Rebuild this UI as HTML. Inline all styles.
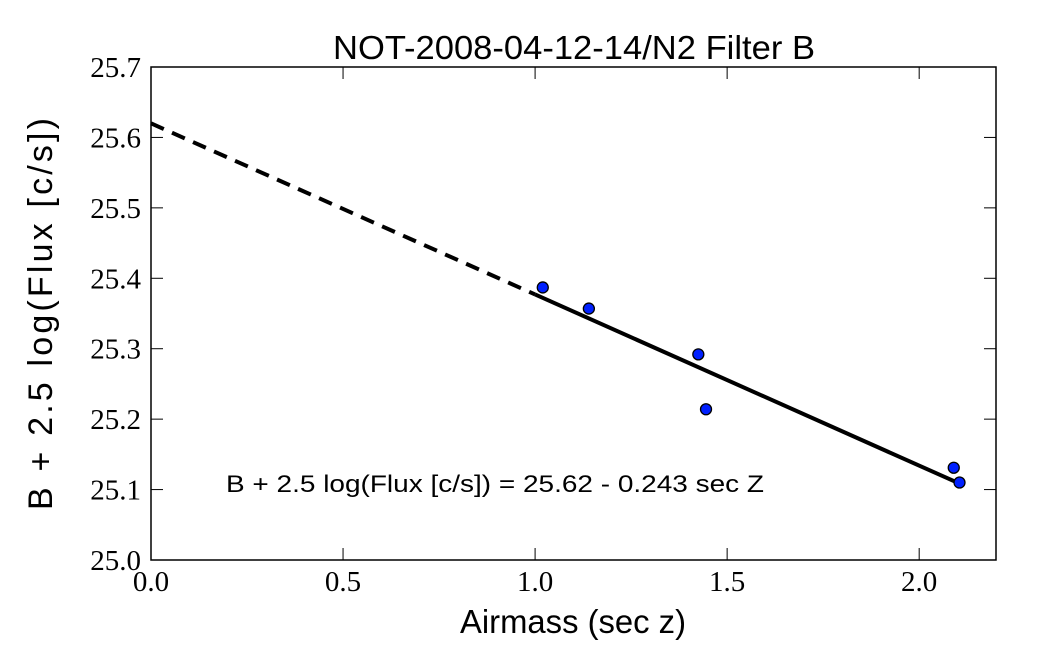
<!DOCTYPE html>
<html><head><meta charset="utf-8"><style>
body{margin:0;background:#fff;}
svg text{font-family:"Liberation Serif",serif;}
</style></head><body>
<svg width="1060" height="658" id="c">
<text x="333" y="59" textLength="482" lengthAdjust="spacingAndGlyphs" font-size="33" style="font-family:'Liberation Sans',sans-serif">NOT-2008-04-12-14/N2 Filter B</text>
<g id="ticks"></g>
<g id="marks"></g>
<rect x="151" y="67" width="845" height="493" fill="none" stroke="#000" stroke-width="1.5"/>
<text x="460" y="633" textLength="226" lengthAdjust="spacingAndGlyphs" font-size="33" style="font-family:'Liberation Sans',sans-serif">Airmass (sec z)</text>
<text transform="translate(52,510) rotate(-90)" textLength="392" lengthAdjust="spacing" font-size="34" style="font-family:'Liberation Sans',sans-serif">B + 2.5 log(Flux [c/s])</text>
<text x="226" y="492" textLength="538" lengthAdjust="spacingAndGlyphs" font-size="24" style="font-family:'Liberation Sans',sans-serif">B + 2.5 log(Flux [c/s]) = 25.62 - 0.243 sec Z</text>
</svg>
<script>
const xVals=[1.02,1.14,1.425,1.445,2.09,2.105];
const yVals=[25.387,25.357,25.292,25.214,25.131,25.110];
const xTicks=[0.0,0.5,1.0,1.5,2.0];
const yTicks=[25.0,25.1,25.2,25.3,25.4,25.5,25.6,25.7];
const fitIntercept=25.62, fitSlope=-0.243;
const fitRange=[0,1.0,2.105];
const X=v=>151+(v-0)/(2.2)*845;
const Y=v=>560-(v-25.0)/0.7*493;
const NS='http://www.w3.org/2000/svg';
const tk=document.getElementById('ticks'), mk=document.getElementById('marks');
function mkEl(t,a,p){const e=document.createElementNS(NS,t);for(const k in a)e.setAttribute(k,a[k]);p.appendChild(e);return e;}
xTicks.forEach(v=>{
 const l=mkEl('line',{x1:X(v),x2:X(v),y1:560,y2:548,stroke:'#000'},tk);
 
 
 const l2=mkEl('line',{x1:X(v),x2:X(v),y1:67,y2:79,stroke:'#000'},tk);
 
 
 const t=mkEl('text',{x:X(v),y:591,'text-anchor':'middle','font-size':29},tk);t.textContent=v.toFixed(1);
 
 
});
yTicks.forEach(v=>{
 const l=mkEl('line',{x1:151,x2:163,y1:Y(v),y2:Y(v),stroke:'#000'},tk);
 
 
 const l2=mkEl('line',{x1:984,x2:996,y1:Y(v),y2:Y(v),stroke:'#000'},tk);
 
 
 const t=mkEl('text',{x:141,y:Y(v)+10,'text-anchor':'end','font-size':29},tk);t.textContent=v.toFixed(1);
 
 
});
const f=x=>fitIntercept+fitSlope*x;
const d=mkEl('line',{x1:X(fitRange[0]),y1:Y(f(fitRange[0])),x2:X(fitRange[1]),y2:Y(f(fitRange[1])),stroke:'#000','stroke-width':4,'stroke-dasharray':'14,9'},mk);


const s=mkEl('line',{x1:X(fitRange[1]),y1:Y(f(fitRange[1])),x2:X(fitRange[2]),y2:Y(f(fitRange[2])),stroke:'#000','stroke-width':4},mk);


xVals.forEach((x,i)=>{
 const c=mkEl('circle',{cx:X(x),cy:Y(yVals[i]),r:5.5,fill:'#0020ff',stroke:'#000','stroke-width':1.3},mk);
 
 
});
</script>
</body></html>
